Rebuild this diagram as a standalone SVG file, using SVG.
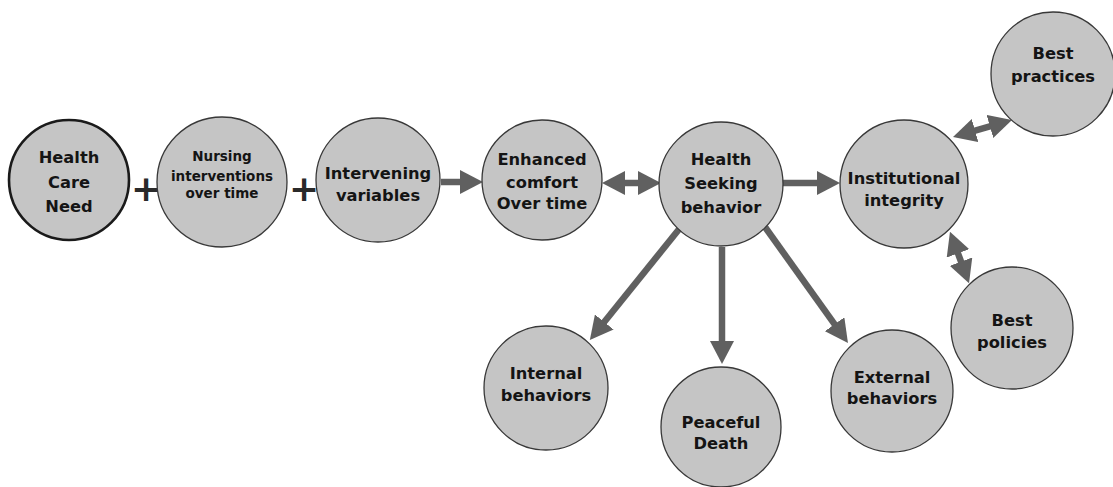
<svg xmlns="http://www.w3.org/2000/svg" width="1113" height="487" viewBox="0 0 1113 487">
  <style>
    .node circle { fill: #c5c5c5; stroke: #383838; stroke-width: 1.3; }
    .node.bold circle { stroke: #1a1a1a; stroke-width: 2.6; }
    .node text { font-family: "DejaVu Sans", Verdana, sans-serif; font-weight: bold; font-size: 16.3px; fill: #141414; text-anchor: middle; }
    .node text.small { font-size: 13.5px; }
    .plus { font-family: "DejaVu Sans", sans-serif; font-weight: bold; font-size: 36px; fill: #2a2a2a; text-anchor: middle; }
    .conn line { stroke: #606060; stroke-width: 6.5; }
    .one { marker-end: url(#head); }
    .two { marker-start: url(#head); marker-end: url(#head); }
  </style>
  <defs>
    <marker id="head" viewBox="0 0 23 24" markerWidth="23" markerHeight="24" markerUnits="userSpaceOnUse" refX="10" refY="12" orient="auto-start-reverse">
      <path d="M0,0 L23,12 L0,24 Z" fill="#606060"/>
    </marker>
  </defs>
  <rect width="1113" height="487" fill="#ffffff"/>

  <g id="connectors" class="conn">
    <line class="one" x1="441" y1="182" x2="470" y2="182"/>
    <line class="two" x1="615" y1="183" x2="648" y2="183"/>
    <line class="one" x1="781" y1="183" x2="827" y2="183"/>
    <line class="two" x1="965.5" y1="133.4" x2="999.5" y2="123.6"/>
    <line class="two" x1="954.5" y1="244" x2="964.5" y2="271"/>
    <line class="one" x1="680" y1="228" x2="598" y2="329.8"/>
    <line class="one" x1="722" y1="247" x2="722" y2="351"/>
    <line class="one" x1="765" y1="227" x2="840.4" y2="332.4"/>
  </g>

  <g id="node-health-care-need" class="node bold">
    <circle cx="69" cy="180" r="60"/>
    <text x="69" y="163">Health</text>
    <text x="69" y="188">Care</text>
    <text x="69" y="212">Need</text>
  </g>
  <text class="plus" x="146" y="201">+</text>
  <g id="node-nursing" class="node">
    <circle cx="222" cy="182" r="65"/>
    <text class="small" x="222" y="161">Nursing</text>
    <text class="small" x="222" y="181">interventions</text>
    <text class="small" x="222" y="198">over time</text>
  </g>
  <text class="plus" x="304" y="201">+</text>
  <g id="node-intervening" class="node">
    <circle cx="378" cy="180" r="62"/>
    <text x="378" y="179">Intervening</text>
    <text x="378" y="201">variables</text>
  </g>
  <g id="node-enhanced" class="node">
    <circle cx="542" cy="180" r="60"/>
    <text x="542" y="165">Enhanced</text>
    <text x="542" y="188">comfort</text>
    <text x="542" y="209">Over time</text>
  </g>
  <g id="node-health-seeking" class="node">
    <circle cx="721" cy="184" r="62"/>
    <text x="721" y="165">Health</text>
    <text x="721" y="189">Seeking</text>
    <text x="721" y="213">behavior</text>
  </g>
  <g id="node-institutional" class="node">
    <circle cx="904" cy="184" r="64"/>
    <text x="904" y="184">Institutional</text>
    <text x="904" y="206">integrity</text>
  </g>
  <g id="node-best-practices" class="node">
    <circle cx="1053" cy="74" r="62"/>
    <text x="1053" y="59">Best</text>
    <text x="1053" y="82">practices</text>
  </g>
  <g id="node-best-policies" class="node">
    <circle cx="1012" cy="328" r="61"/>
    <text x="1012" y="326">Best</text>
    <text x="1012" y="348">policies</text>
  </g>
  <g id="node-internal" class="node">
    <circle cx="546" cy="388" r="62"/>
    <text x="546" y="379">Internal</text>
    <text x="546" y="401">behaviors</text>
  </g>
  <g id="node-peaceful" class="node">
    <circle cx="721" cy="427" r="60"/>
    <text x="721" y="428">Peaceful</text>
    <text x="721" y="449">Death</text>
  </g>
  <g id="node-external" class="node">
    <circle cx="892" cy="391" r="61"/>
    <text x="892" y="383">External</text>
    <text x="892" y="404">behaviors</text>
  </g>
</svg>
